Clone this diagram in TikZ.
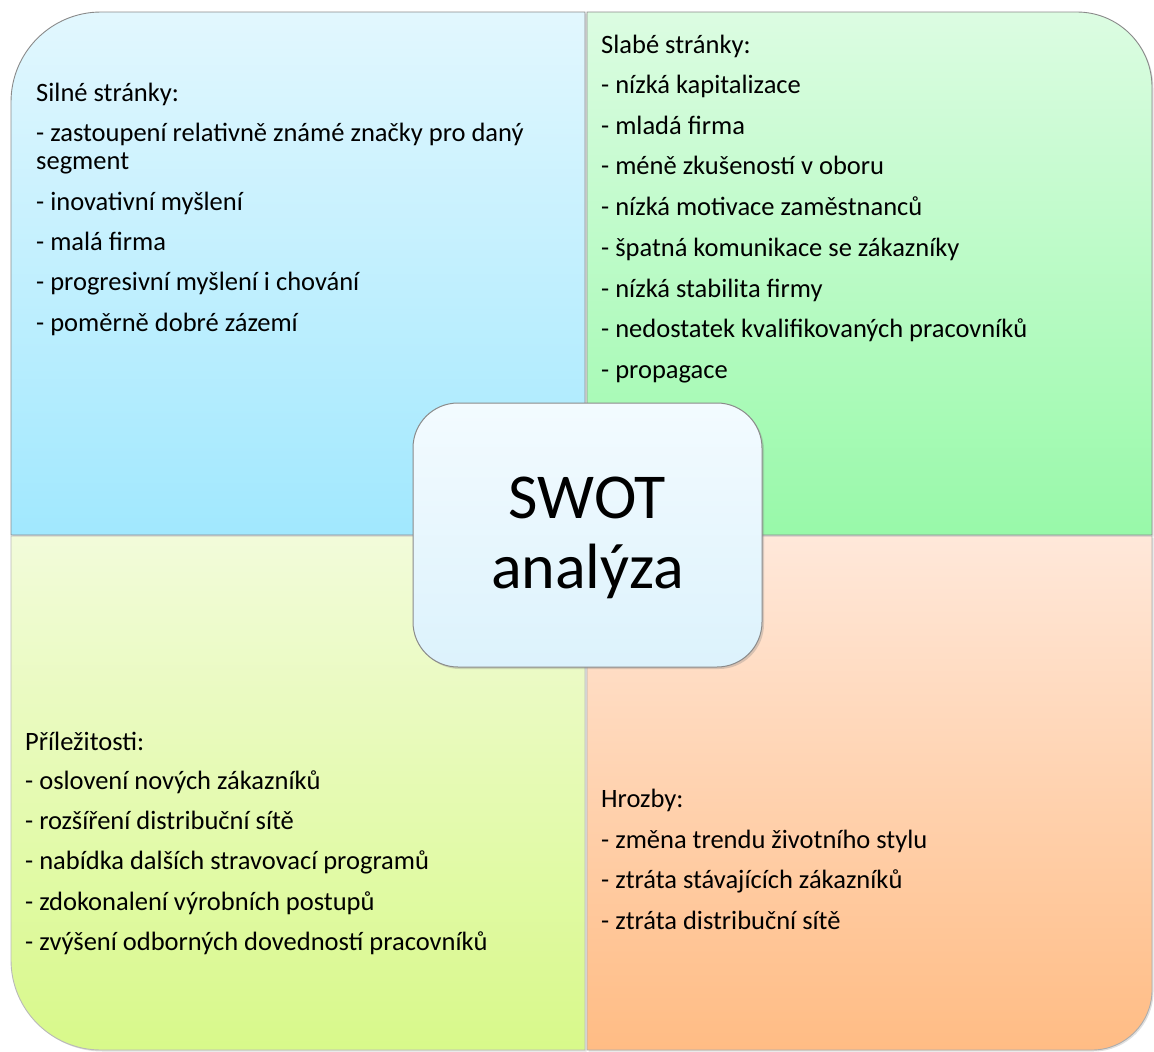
\documentclass[tikz,border=0pt]{standalone}
\usepackage{fontspec}
\setmainfont{Carlito}
\usetikzlibrary{shadows}
\definecolor{tltop}{HTML}{E2F7FE}
\definecolor{tlbot}{HTML}{A1E8FE}
\definecolor{trtop}{HTML}{DCFCE2}
\definecolor{trbot}{HTML}{98F9A9}
\definecolor{bltop}{HTML}{F2FBDA}
\definecolor{blbot}{HTML}{D8F98A}
\definecolor{brtop}{HTML}{FFE8DA}
\definecolor{brbot}{HTML}{FFBC84}
\definecolor{ctop}{HTML}{F3FBFF}
\definecolor{cbot}{HTML}{DCF2FC}
\definecolor{edge}{HTML}{8A8A8A}
\tikzset{
  quad/.style={draw=edge, line width=0.9pt, drop shadow={shadow xshift=1.5pt, shadow yshift=-1.5pt, opacity=0.25}},
  txt/.style={anchor=base west, inner sep=0pt, font=\fontsize{26.5}{30}\selectfont},
  center/.style={draw=edge, line width=1pt, rounded corners=45pt, top color=ctop, bottom color=cbot,
    drop shadow={shadow xshift=2pt, shadow yshift=-2pt, opacity=0.3}}
}
\begin{document}
\begin{tikzpicture}[x=1pt,y=-1pt]
\useasboundingbox (0,0) rectangle (1154,1052);
% quadrants
\path[quad, top color=tltop, bottom color=tlbot]
  (11,535) -- (11,102) .. controls (11,52.3) and (51.3,12) .. (101,12) -- (585,12) -- (585,535) -- cycle;
\path[quad, top color=trtop, bottom color=trbot]
  (587,12) -- (1077,12) .. controls (1118.4,12) and (1152,45.6) .. (1152,87) -- (1152,535) -- (587,535) -- cycle;
\path[quad, top color=bltop, bottom color=blbot, draw=edge!60]
  (11,536) -- (585,536) -- (585,1050) -- (101,1050) .. controls (51.3,1050) and (11,1009.7) .. (11,960) -- cycle;
\path[quad, top color=brtop, bottom color=brbot, draw=edge!70]
  (587,536) -- (1152,536) -- (1152,990) .. controls (1152,1023.1) and (1125.1,1050) .. (1092,1050) -- (587,1050) -- cycle;
% texts
\foreach \y/\t [count=\i] in {101/Silné stránky:,141/- zastoupení relativně známé značky pro daný,169/segment,210/- inovativní myšlení,250/- malá firma,290/- progresivní myšlení i chování,331/- poměrně dobré zázemí}
  \node[txt] (tl\i) at (36,\y) {\t};
\foreach \y/\t [count=\i] in {53/Slabé stránky:,93/- nízká kapitalizace,134/- mladá firma,174/- méně zkušeností v oboru,215/- nízká motivace zaměstnanců,256/- špatná komunikace se zákazníky,297/- nízká stabilita firmy,337/- nedostatek kvalifikovaných pracovníků,378/- propagace}
  \node[txt] (tr\i) at (601,\y) {\t};
\foreach \y/\t [count=\i] in {750/Příležitosti:,789/- oslovení nových zákazníků,829/- rozšíření distribuční sítě,869/- nabídka dalších stravovací programů,910/- zdokonalení výrobních postupů,950/- zvýšení odborných dovedností pracovníků}
  \node[txt] (bl\i) at (25,\y) {\t};
\foreach \y/\t [count=\i] in {807/Hrozby:,848/- změna trendu životního stylu,888/- ztráta stávajících zákazníků,929/- ztráta distribuční sítě}
  \node[txt] (br\i) at (601,\y) {\t};
% center
\path[center] (413,403) rectangle (762,667);
\node[inner sep=0pt, font=\fontsize{64}{70}\selectfont, anchor=base] (swot) at (587.5,518) {SWOT};
\node[inner sep=0pt, font=\fontsize{64}{70}\selectfont, anchor=base] (anal) at (587.5,588) {analýza};
\end{tikzpicture}
\end{document}
